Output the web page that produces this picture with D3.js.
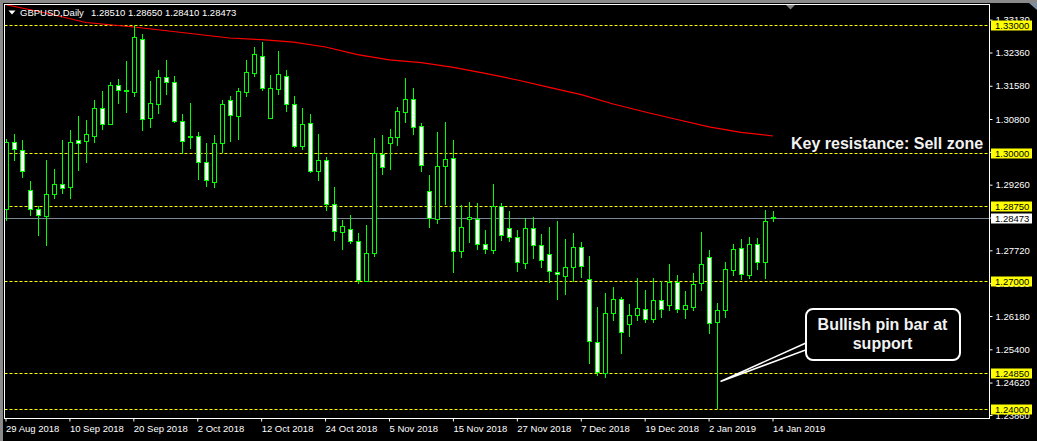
<!DOCTYPE html>
<html><head><meta charset="utf-8">
<script src="https://cdn.jsdelivr.net/npm/d3@7"></script>
<style>html,body{margin:0;padding:0;background:#000;overflow:hidden}</style>
</head><body>
<svg id="c" width="1037" height="441"></svg>
<script>
// ---------------- DATA ----------------
const symbolTitle = "GBPUSD,Daily";
const startDate = "2018-08-29";
const holidays = ["2018-12-25", "2019-01-01"];

const open = [1.28683,1.30254,1.30066,1.29128,1.28683,1.28533,1.29035,1.29269,1.29213,1.30301,
1.30291,1.30409,1.31051,1.30690,1.31591,1.31473,1.31441,1.32669,1.30831,1.31159,
1.31778,1.31661,1.30746,1.30402,1.30395,1.29785,1.29330,1.30231,1.31239,1.30878,
1.31426,1.31886,1.32271,1.30831,1.31511,1.31802,1.31145,1.30174,1.30700,1.29588,
1.29832,1.28800,1.28144,1.28214,1.27932,1.27009,1.27651,1.29973,1.30231,1.30385,
1.30972,1.31262,1.30629,1.29105,1.28462,1.29705,1.29879,1.27698,1.28448,1.28448,
1.27862,1.27735,1.28753,1.28237,1.28040,1.27431,1.28237,1.27839,1.27628,1.27220,
1.27126,1.27323,1.27792,1.27041,1.25564,1.24837,1.26244,1.26572,1.25986,1.26197,
1.26338,1.26103,1.26549,1.26446,1.26985,1.26338,1.26399,1.26948,1.27557,1.26033,
1.26314,1.27252,1.27768,1.27135,1.27876,1.27440,1.28510];
const high = [1.30331,1.30449,1.30308,1.29346,1.28760,1.29839,1.29628,1.30308,1.30542,1.30871,
1.30777,1.31246,1.31457,1.31668,1.31731,1.32160,1.33005,1.32794,1.31691,1.31949,
1.32184,1.31809,1.30918,1.31176,1.30496,1.30231,1.30425,1.31246,1.31340,1.31520,
1.32184,1.32496,1.32606,1.31832,1.32395,1.31942,1.31340,1.31058,1.30918,1.30449,
1.29916,1.29206,1.28432,1.28549,1.28134,1.28315,1.30362,1.30425,1.30566,1.31075,
1.31762,1.31527,1.30707,1.29487,1.30496,1.30737,1.30308,1.28784,1.28854,1.28831,
1.28197,1.29276,1.28838,1.28643,1.28197,1.28472,1.28495,1.28097,1.28261,1.28408,
1.27986,1.28120,1.27916,1.27588,1.26399,1.26713,1.26868,1.26633,1.26462,1.27065,
1.26790,1.27065,1.27001,1.27400,1.27142,1.26767,1.27196,1.28158,1.27728,1.26479,
1.27447,1.27869,1.27986,1.28040,1.28003,1.28659,1.28650];
const low = [1.28432,1.29839,1.29447,1.28549,1.28080,1.27853,1.28955,1.29072,1.28955,1.29604,
1.29799,1.30268,1.30566,1.30680,1.31183,1.30972,1.31340,1.30542,1.30620,1.30948,
1.31387,1.30737,1.29996,1.30120,1.29400,1.29236,1.29213,1.30020,1.30291,1.30338,
1.31340,1.31816,1.31480,1.30820,1.31387,1.30995,1.30144,1.30097,1.29565,1.29370,
1.28666,1.27963,1.27759,1.27900,1.26948,1.26994,1.27595,1.29511,1.29635,1.30198,
1.30737,1.30456,1.29588,1.28268,1.28369,1.28814,1.27220,1.27571,1.27923,1.27745,
1.27651,1.27665,1.27963,1.27946,1.27243,1.27313,1.27548,1.27337,1.26985,1.26572,
1.26704,1.27001,1.27102,1.25072,1.24797,1.24757,1.26087,1.25306,1.25719,1.26087,
1.26047,1.26047,1.26164,1.26321,1.26281,1.26134,1.26321,1.26790,1.25789,1.24016,
1.26150,1.27149,1.27055,1.27072,1.27276,1.27079,1.28410];
const close = [1.30254,1.30090,1.29588,1.28697,1.28542,1.29042,1.29269,1.29175,1.30254,1.30245,
1.30442,1.31051,1.30690,1.31591,1.31473,1.31457,1.32716,1.30807,1.31169,1.31778,
1.31661,1.30760,1.30291,1.30388,1.29785,1.29363,1.30231,1.31145,1.30887,1.31450,
1.31896,1.32318,1.31520,1.31520,1.31849,1.31145,1.30174,1.30676,1.29588,1.29832,
1.28800,1.28167,1.28284,1.27932,1.27018,1.27651,1.29996,1.29682,1.30378,1.30988,
1.31262,1.30620,1.29729,1.28479,1.29691,1.29855,1.27698,1.28261,1.28495,1.27862,
1.27745,1.28753,1.28073,1.28040,1.27440,1.28237,1.27839,1.27487,1.27229,1.27159,
1.27323,1.27792,1.27346,1.25587,1.24860,1.26244,1.26572,1.25798,1.26204,1.26361,
1.26103,1.26549,1.26338,1.26985,1.26338,1.26432,1.26924,1.27393,1.26024,1.26314,
1.27276,1.27745,1.27159,1.27876,1.27447,1.28408,1.28473];

// moving average read at sampled bars (bar index, value)
const maBars   = [0,5,10,16,22,28,32,36,40,44,48,52,56,60,64,68,72,76,80,84,88,92,96];
const maValues = [1.33480,1.33286,1.33063,1.32958,1.32829,1.32700,1.32660,1.32601,1.32489,1.32308,
1.32188,1.32123,1.32010,1.31872,1.31715,1.31541,1.31372,1.31152,1.30965,1.30789,1.30615,1.30488,1.30402];

const levels = [1.33000, 1.30000, 1.28750, 1.27000, 1.24850, 1.24000];
const lastPrice = 1.28473;
const priceTicks = [1.33130,1.32360,1.31580,1.30800,1.30030,1.29260,1.28490,1.27720,1.26950,1.26180,1.25400,1.24620,1.23860];
const dateTickEvery = 8;
const priceRange = [1.237887, 1.334971];
const noteResistance = "Key resistance: Sell zone";
const notePin = ["Bullish pin bar at", "support"];

// ---------------- SETUP ----------------
const W = 1037, H = 441;
const plot = {l: 4.5, r: 989.5, t: 4.5, b: 418.5};
const FONT = "'Liberation Sans', Arial, sans-serif";

const parse = d3.utcParse("%Y-%m-%d");
const keyFmt = d3.utcFormat("%Y-%m-%d");
const labelFmt = d3.utcFormat("%-d %b %Y");
const dates = [];
{
  let d = parse(startDate);
  while (dates.length < open.length) {
    const wd = d.getUTCDay();
    if (wd !== 0 && wd !== 6 && !holidays.includes(keyFmt(d))) dates.push(keyFmt(d));
    d = d3.utcDay.offset(d, 1);
  }
}
const bars = dates.map((k, i) => ({key: k, o: open[i], h: high[i], l: low[i], c: close[i]}));

const x = d3.scalePoint().domain(dates).range([6, 773]);
const y = d3.scaleLinear().domain(priceRange).range([418, 4]);
const cx = k => Math.round(x(k));

const svg = d3.select("#c");
svg.append("rect").attr("width", W).attr("height", H).attr("fill", "#000");
// window edges
svg.append("rect").attr("x", 0).attr("y", 0).attr("width", W).attr("height", 3).attr("fill", "#8a8a8a");
svg.append("rect").attr("x", 0).attr("y", 0).attr("width", 3).attr("height", H).attr("fill", "#8a8a8a");
svg.append("polygon").attr("points", "1029,3 1037,3 1037,10").attr("fill", "#7f8fa0");

svg.append("clipPath").attr("id", "pc").append("rect")
  .attr("x", plot.l).attr("y", plot.t).attr("width", plot.r - plot.l).attr("height", plot.b - plot.t);
const g = svg.append("g").attr("clip-path", "url(#pc)");

// level lines
g.selectAll("line.lvl").data(levels).join("line").attr("class", "lvl")
  .attr("x1", plot.l).attr("x2", plot.r)
  .attr("y1", d => Math.round(y(d)) + 0.5).attr("y2", d => Math.round(y(d)) + 0.5)
  .attr("stroke", "#ffff00").attr("stroke-width", 1).attr("stroke-dasharray", "3,2");
// bid line
g.append("line").attr("x1", plot.l).attr("x2", plot.r)
  .attr("y1", Math.round(y(lastPrice)) + 0.5).attr("y2", Math.round(y(lastPrice)) + 0.5)
  .attr("stroke", "#7a8898").attr("stroke-width", 1);

// moving average
const maPts = maBars.map((b, i) => [x(dates[b]), y(maValues[i])]);
g.append("path").attr("d", d3.line()(maPts)).attr("fill", "none")
  .attr("stroke", "#ff0000").attr("stroke-width", 1.2);

// candles
const cg = g.append("g").selectAll("g").data(bars).join("g");
cg.append("line")
  .attr("x1", d => cx(d.key) + 0.5).attr("x2", d => cx(d.key) + 0.5)
  .attr("y1", d => Math.round(y(d.h))).attr("y2", d => Math.round(y(d.l)) + 1)
  .attr("stroke", "#00ff00").attr("stroke-width", 1);
cg.append("rect")
  .attr("x", d => cx(d.key) - 1.5)
  .attr("y", d => Math.round(y(Math.max(d.o, d.c))) + 0.5)
  .attr("width", 4)
  .attr("height", d => Math.max(1, Math.round(y(Math.min(d.o, d.c))) - Math.round(y(Math.max(d.o, d.c)))))
  .attr("fill", d => d.c < d.o ? "#ffffff" : "#000000")
  .attr("stroke", "#00ff00").attr("stroke-width", 1);

// frame
svg.append("rect").attr("x", plot.l).attr("y", plot.t).attr("width", plot.r - plot.l).attr("height", plot.b - plot.t)
  .attr("fill", "none").attr("stroke", "#ffffff").attr("stroke-width", 1);

// price axis
const yAxis = d3.axisRight(y).tickValues(priceTicks).tickSize(3).tickPadding(3).tickFormat(d3.format(".5f"));
svg.append("g").attr("transform", `translate(${plot.r},0)`).call(yAxis)
  .call(a => a.select(".domain").remove())
  .call(a => a.selectAll("line").attr("stroke", "#fff"))
  .call(a => a.selectAll("text").attr("fill", "#fff").attr("font-family", FONT).attr("font-size", 9.5));

// date axis
const tickKeys = dates.filter((d, i) => i % dateTickEvery === 0);
const xAxis = d3.axisBottom(x).tickValues(tickKeys).tickSize(3).tickFormat(k => labelFmt(parse(k)));
svg.append("g").attr("transform", `translate(-0.5,${plot.b})`).call(xAxis)
  .call(a => a.select(".domain").remove())
  .call(a => a.selectAll("line").attr("stroke", "#fff"))
  .call(a => a.selectAll("text").attr("fill", "#fff").attr("font-family", FONT).attr("font-size", 9.5)
     .attr("text-anchor", "start").attr("x", 0).attr("y", 13).attr("dy", 0));

// price labels for levels
const lab = svg.append("g");
function priceLabel(v, bg) {
  const yy = Math.round(y(v));
  lab.append("rect").attr("x", 991).attr("y", yy - 4.5).attr("width", 41).attr("height", 10)
    .attr("fill", bg);
  lab.append("text").attr("x", 995).attr("y", yy + 0.5).attr("dy", "0.35em")
    .attr("font-family", FONT).attr("font-size", 9.5).attr("fill", "#000").text(d3.format(".5f")(v));
}
levels.forEach(v => priceLabel(v, "#ffff00"));
priceLabel(lastPrice, "#ffffff");

// header
const last = bars[bars.length - 1];
svg.append("polygon").attr("points", "8.5,10.5 15.5,10.5 12,14.5").attr("fill", "#fff");
svg.append("text").attr("x", 20).attr("y", 16).attr("font-family", FONT).attr("font-size", 9.5)
  .attr("fill", "#fff").text(symbolTitle);
svg.append("text").attr("x", 91).attr("y", 16).attr("font-family", FONT).attr("font-size", 9.5)
  .attr("fill", "#fff").text([last.o, last.h, last.l, last.c].map(d3.format(".5f")).join(" "));
svg.append("polygon").attr("points", "786,5 795,5 790.5,9.5").attr("fill", "#808080");

// annotations
svg.append("text").attr("x", 791).attr("y", 148.5).attr("font-family", FONT).attr("font-weight", "bold")
  .attr("font-size", 16).attr("fill", "#f2f2f2").text(noteResistance);

const ann = svg.append("g");
ann.append("polygon").attr("points", "807,342.5 720.5,381.5 807,349.5")
  .attr("fill", "#000").attr("stroke", "#fff").attr("stroke-width", 1.5).attr("stroke-linejoin", "miter");
ann.append("rect").attr("x", 806).attr("y", 309).attr("width", 154).attr("height", 51).attr("rx", 7)
  .attr("fill", "#000").attr("stroke", "#fff").attr("stroke-width", 2);
ann.selectAll("text").data(notePin).join("text")
  .attr("x", 882.5).attr("y", (d, i) => 329.5 + i * 19).attr("text-anchor", "middle")
  .attr("font-family", FONT).attr("font-weight", "bold").attr("font-size", 16).attr("fill", "#f2f2f2")
  .text(d => d);
</script>
</body></html>
